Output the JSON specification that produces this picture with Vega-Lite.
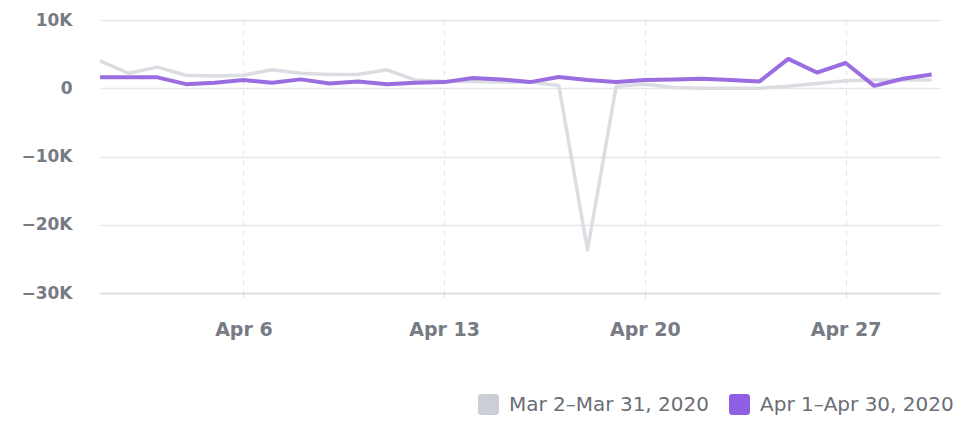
{
  "$schema": "https://vega.github.io/schema/vega-lite/v6.json",
  "width": 840,
  "height": 273,
  "autosize": "none",
  "padding": {"left": 100, "top": 20, "right": 23, "bottom": 131},
  "background": "white",
  "config": {"view": {"stroke": null}, "font": "DejaVu Sans"},
  "data": {"values": [
    {"date": "2020-04-01", "series": "Mar 2–Mar 31, 2020", "value": 4000},
    {"date": "2020-04-02", "series": "Mar 2–Mar 31, 2020", "value": 2200},
    {"date": "2020-04-03", "series": "Mar 2–Mar 31, 2020", "value": 3100},
    {"date": "2020-04-04", "series": "Mar 2–Mar 31, 2020", "value": 1900},
    {"date": "2020-04-05", "series": "Mar 2–Mar 31, 2020", "value": 1800},
    {"date": "2020-04-06", "series": "Mar 2–Mar 31, 2020", "value": 1900},
    {"date": "2020-04-07", "series": "Mar 2–Mar 31, 2020", "value": 2700},
    {"date": "2020-04-08", "series": "Mar 2–Mar 31, 2020", "value": 2200},
    {"date": "2020-04-09", "series": "Mar 2–Mar 31, 2020", "value": 2000},
    {"date": "2020-04-10", "series": "Mar 2–Mar 31, 2020", "value": 2000},
    {"date": "2020-04-11", "series": "Mar 2–Mar 31, 2020", "value": 2700},
    {"date": "2020-04-12", "series": "Mar 2–Mar 31, 2020", "value": 1200},
    {"date": "2020-04-13", "series": "Mar 2–Mar 31, 2020", "value": 1000},
    {"date": "2020-04-14", "series": "Mar 2–Mar 31, 2020", "value": 1000},
    {"date": "2020-04-15", "series": "Mar 2–Mar 31, 2020", "value": 900},
    {"date": "2020-04-16", "series": "Mar 2–Mar 31, 2020", "value": 900},
    {"date": "2020-04-17", "series": "Mar 2–Mar 31, 2020", "value": 400},
    {"date": "2020-04-18", "series": "Mar 2–Mar 31, 2020", "value": -23700},
    {"date": "2020-04-19", "series": "Mar 2–Mar 31, 2020", "value": 300},
    {"date": "2020-04-20", "series": "Mar 2–Mar 31, 2020", "value": 600},
    {"date": "2020-04-21", "series": "Mar 2–Mar 31, 2020", "value": 100},
    {"date": "2020-04-22", "series": "Mar 2–Mar 31, 2020", "value": 0},
    {"date": "2020-04-23", "series": "Mar 2–Mar 31, 2020", "value": 0},
    {"date": "2020-04-24", "series": "Mar 2–Mar 31, 2020", "value": 0},
    {"date": "2020-04-25", "series": "Mar 2–Mar 31, 2020", "value": 300},
    {"date": "2020-04-26", "series": "Mar 2–Mar 31, 2020", "value": 700},
    {"date": "2020-04-27", "series": "Mar 2–Mar 31, 2020", "value": 1100},
    {"date": "2020-04-28", "series": "Mar 2–Mar 31, 2020", "value": 1200},
    {"date": "2020-04-29", "series": "Mar 2–Mar 31, 2020", "value": 1200},
    {"date": "2020-04-30", "series": "Mar 2–Mar 31, 2020", "value": 1200},
    {"date": "2020-04-01", "series": "Apr 1–Apr 30, 2020", "value": 1600},
    {"date": "2020-04-02", "series": "Apr 1–Apr 30, 2020", "value": 1600},
    {"date": "2020-04-03", "series": "Apr 1–Apr 30, 2020", "value": 1600},
    {"date": "2020-04-04", "series": "Apr 1–Apr 30, 2020", "value": 600},
    {"date": "2020-04-05", "series": "Apr 1–Apr 30, 2020", "value": 800},
    {"date": "2020-04-06", "series": "Apr 1–Apr 30, 2020", "value": 1200},
    {"date": "2020-04-07", "series": "Apr 1–Apr 30, 2020", "value": 800},
    {"date": "2020-04-08", "series": "Apr 1–Apr 30, 2020", "value": 1300},
    {"date": "2020-04-09", "series": "Apr 1–Apr 30, 2020", "value": 700},
    {"date": "2020-04-10", "series": "Apr 1–Apr 30, 2020", "value": 1000},
    {"date": "2020-04-11", "series": "Apr 1–Apr 30, 2020", "value": 600},
    {"date": "2020-04-12", "series": "Apr 1–Apr 30, 2020", "value": 800},
    {"date": "2020-04-13", "series": "Apr 1–Apr 30, 2020", "value": 900},
    {"date": "2020-04-14", "series": "Apr 1–Apr 30, 2020", "value": 1500},
    {"date": "2020-04-15", "series": "Apr 1–Apr 30, 2020", "value": 1300},
    {"date": "2020-04-16", "series": "Apr 1–Apr 30, 2020", "value": 900},
    {"date": "2020-04-17", "series": "Apr 1–Apr 30, 2020", "value": 1650},
    {"date": "2020-04-18", "series": "Apr 1–Apr 30, 2020", "value": 1200},
    {"date": "2020-04-19", "series": "Apr 1–Apr 30, 2020", "value": 900},
    {"date": "2020-04-20", "series": "Apr 1–Apr 30, 2020", "value": 1200},
    {"date": "2020-04-21", "series": "Apr 1–Apr 30, 2020", "value": 1300},
    {"date": "2020-04-22", "series": "Apr 1–Apr 30, 2020", "value": 1400},
    {"date": "2020-04-23", "series": "Apr 1–Apr 30, 2020", "value": 1200},
    {"date": "2020-04-24", "series": "Apr 1–Apr 30, 2020", "value": 1000},
    {"date": "2020-04-25", "series": "Apr 1–Apr 30, 2020", "value": 4300},
    {"date": "2020-04-26", "series": "Apr 1–Apr 30, 2020", "value": 2300},
    {"date": "2020-04-27", "series": "Apr 1–Apr 30, 2020", "value": 3700},
    {"date": "2020-04-28", "series": "Apr 1–Apr 30, 2020", "value": 350},
    {"date": "2020-04-29", "series": "Apr 1–Apr 30, 2020", "value": 1400},
    {"date": "2020-04-30", "series": "Apr 1–Apr 30, 2020", "value": 2000}
  ]},
  "encoding": {
    "x": {
      "field": "date", "type": "temporal", "title": null,
      "scale": {"domain": [{"year": 2020, "month": 4, "date": 1}, {"year": 2020, "month": 4, "date": 30, "hours": 7}]},
      "axis": {
        "values": [{"year": 2020, "month": 4, "date": 6}, {"year": 2020, "month": 4, "date": 13}, {"year": 2020, "month": 4, "date": 20}, {"year": 2020, "month": 4, "date": 27}],
        "format": "%b %-d",
        "grid": true, "gridDash": [5, 5], "gridColor": "#e3e5ea", "gridWidth": 1,
        "domain": true, "domainColor": "#dadde3", "domainWidth": 1.5,
        "ticks": true, "tickColor": "#dadde3", "tickSize": 8, "tickDash": [5, 3],
        "labelFont": "DejaVu Sans", "labelFontSize": 19, "labelFontWeight": "bold", "labelColor": "#777b83",
        "labelPadding": 19
      }
    },
    "y": {
      "field": "value", "type": "quantitative", "title": null,
      "scale": {"domain": [-30000, 10000], "nice": false},
      "axis": {
        "values": [-30000, -20000, -10000, 0, 10000],
        "labelExpr": "datum.value == 0 ? '0' : replace(format(datum.value, '~s'), 'k', 'K')",
        "grid": true, "gridColor": "#e3e5ea", "gridWidth": 1.5,
        "domain": false, "ticks": false,
        "labelFont": "DejaVu Sans", "labelFontSize": 17, "labelFontWeight": "bold", "labelColor": "#777b83",
        "labelPadding": 28
      }
    },
    "color": {
      "field": "series", "type": "nominal",
      "scale": {"domain": ["Mar 2–Mar 31, 2020", "Apr 1–Apr 30, 2020"], "range": ["#dcdde2", "#9a6ee0"]},
      "legend": {
        "title": null, "orient": "none", "direction": "horizontal",
        "legendX": 378, "legendY": 374,
        "symbolType": "M -0.7 -1 L 0.7 -1 Q 1 -1 1 -0.7 L 1 0.7 Q 1 1 0.7 1 L -0.7 1 Q -1 1 -1 0.7 L -1 -0.7 Q -1 -1 -0.7 -1 Z",
        "symbolSize": 440, "symbolStrokeWidth": 0,
        "labelFontSize": 20, "labelColor": "#6a6e76", "labelFont": "DejaVu Sans", "labelLimit": 0,
        "columnPadding": 20, "labelOffset": 10,
        "values": ["Mar 2–Mar 31, 2020", "Apr 1–Apr 30, 2020"],
        "encode": {
          "symbols": {"update": {
            "fill": {"signal": "datum.value == 'Mar 2–Mar 31, 2020' ? '#cbced5' : '#8f5fe3'"},
            "opacity": {"value": 1},
            "strokeWidth": {"value": 0}
          }}
        }
      }
    }
  },
  "layer": [
    {
      "transform": [{"filter": "datum.series == 'Mar 2–Mar 31, 2020'"}],
      "mark": {"type": "line", "strokeWidth": 3.5, "strokeJoin": "round"}
    },
    {
      "transform": [{"filter": "datum.series == 'Apr 1–Apr 30, 2020'"}],
      "mark": {"type": "line", "strokeWidth": 4, "strokeJoin": "round"}
    }
  ]
}
